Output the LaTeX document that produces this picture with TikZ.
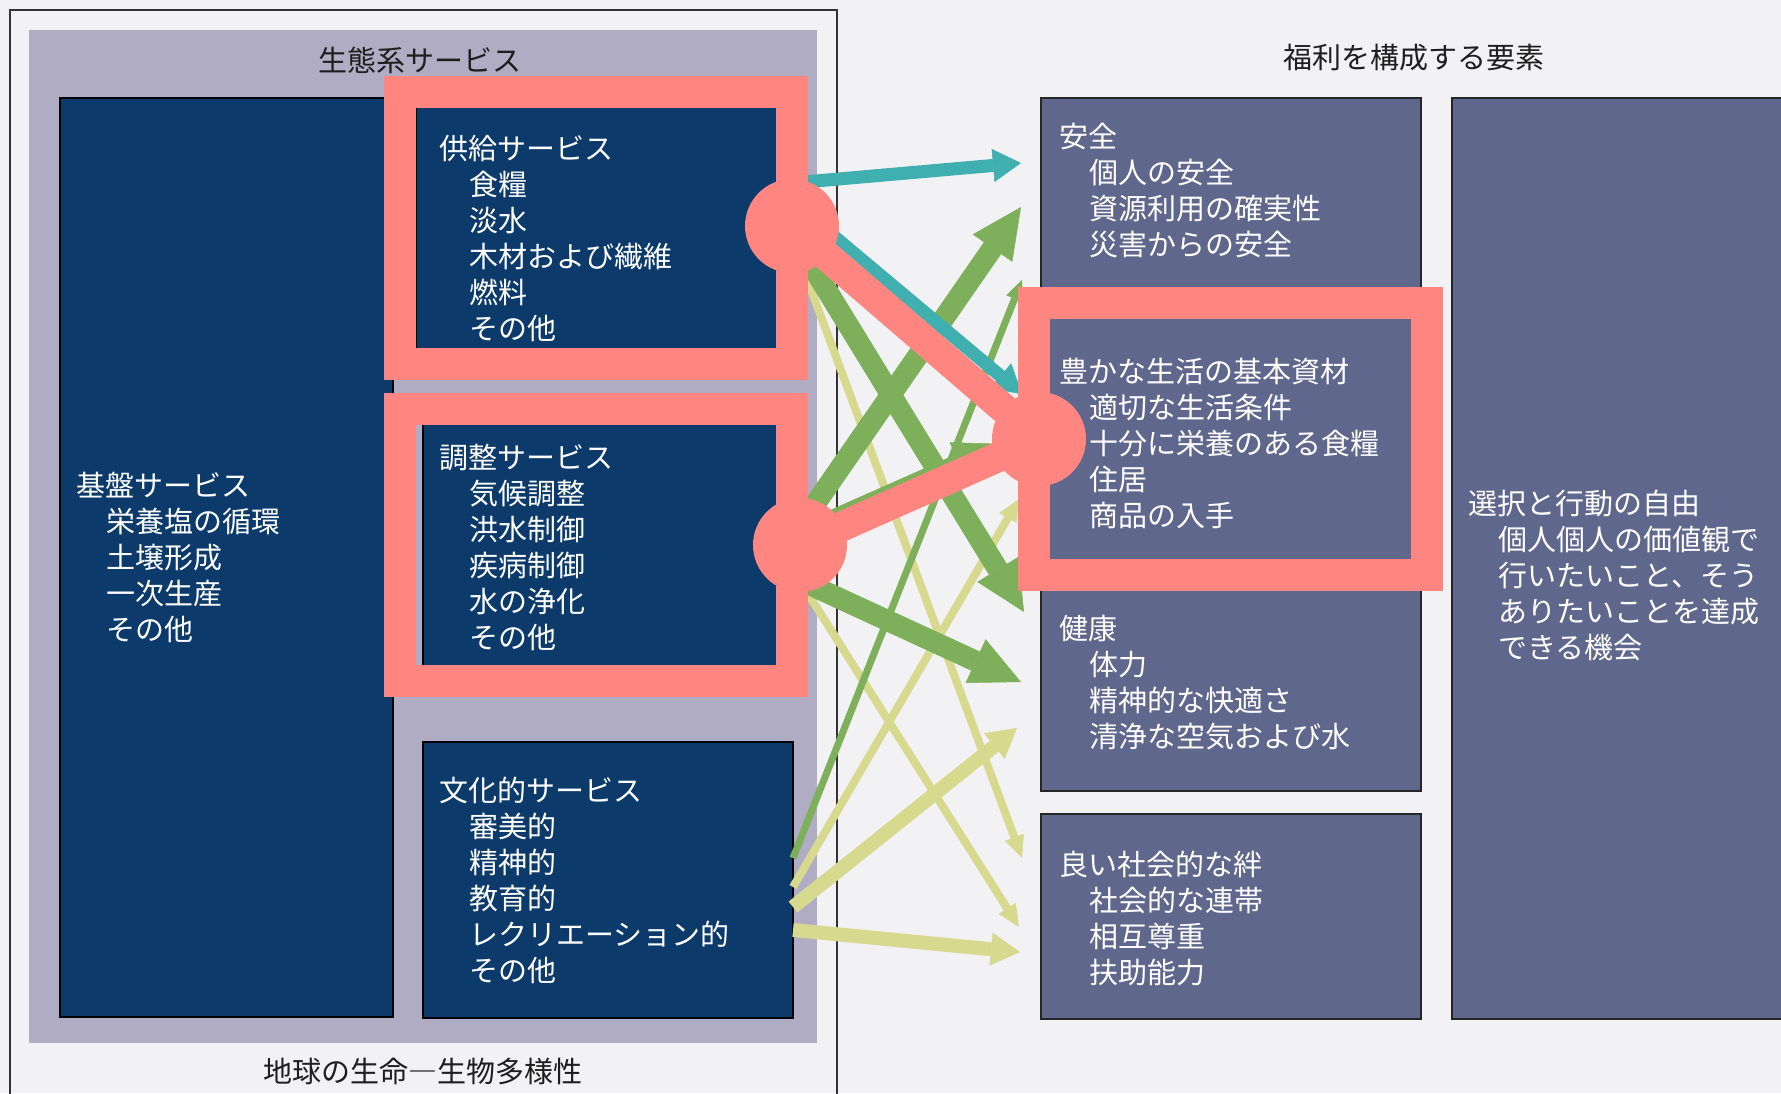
\documentclass[tikz,border=0pt]{standalone}
\usepackage{fontspec}
\setmainfont{Noto Sans CJK JP}
\usetikzlibrary{arrows.meta,calc}
\definecolor{bgc}{HTML}{F2F2F4}
\definecolor{lavc}{HTML}{AFACC3}
\definecolor{navyc}{HTML}{0B3A6B}
\definecolor{slatec}{HTML}{5F678D}
\definecolor{pinkc}{HTML}{FF8581}
\definecolor{tealc}{HTML}{3FAFB0}
\definecolor{greenc}{HTML}{7EB05C}
\definecolor{yelc}{HTML}{D7DA8E}
\definecolor{framec}{HTML}{333333}
\definecolor{titlec}{HTML}{1E1E1E}
\newcommand\mylines[5]{%
  \node[txt] (#1-h) at (#2,#3+11) {#4};
  \foreach \t [count=\i] in {#5} {\node[txt] (#1-\i) at (#2+30,#3+11+36*\i) {\t};}
}
\begin{document}
\begin{tikzpicture}[x=1pt,y=-1pt,
  navybox/.style={anchor=north west,inner sep=0pt,outer sep=0pt,draw=black,line width=1.5pt,fill=navyc},
  slatebox/.style={anchor=north west,inner sep=0pt,outer sep=0pt,draw=black!85,line width=2pt,fill=slatec},
  txt/.style={anchor=base west,inner sep=0pt,text=white,font=\fontsize{29}{36}\selectfont},
  ttl/.style={anchor=base,inner sep=0pt,text=titlec,font=\fontsize{29}{36}\selectfont},
  pinkdot/.style={circle,fill=pinkc,inner sep=0pt,minimum size=94pt},
  pinkline/.style={draw=pinkc,line width=30pt},
  pinkframe/.style={draw=pinkc,line width=32pt},
  tealarr/.style={draw=tealc,line width=13pt,-{Triangle[length=28pt,width=33pt,line width=0.5pt]}},
  gthick/.style={draw=greenc,line width=21pt,-{Triangle[length=50pt,width=48pt,line width=0.5pt]}},
  gthin/.style={draw=greenc,line width=7pt,-{Triangle[length=20pt,width=18pt,line width=0.5pt]}},
  ythin/.style={draw=yelc,line width=8pt,-{Triangle[length=22pt,width=20pt,line width=0.5pt]}},
  ymed/.style={draw=yelc,line width=14pt,-{Triangle[length=29pt,width=33pt,line width=0.5pt]}}
]
\clip (0,0) rectangle (1781,1093);
\fill[bgc] (0,0) rectangle (1781,1093);
\draw[framec,line width=2pt] (10,1100) -- (10,10) -- (837,10) -- (837,1100);
\fill[lavc] (29,30) rectangle (817,1043);

% titles
\node[ttl] (ttl-eco) at (420,71) {生態系サービス};
\node[ttl] (ttl-wb) at (1414,68) {福利を構成する要素};
\node[ttl] (ttl-bio) at (423,1082) {地球の生命―生物多様性};

% left boxes
\node[navybox,minimum width=333pt,minimum height=919pt] (basic) at (60,98) {};
\node[navybox,minimum width=377pt,minimum height=255pt] (sup) at (416,100) {};
\node[navybox,minimum width=370pt,minimum height=252pt] (reg) at (423,418) {};
\node[navybox,minimum width=370pt,minimum height=276pt] (cul) at (423,742) {};
% right boxes
\node[slatebox,minimum width=380pt,minimum height=210pt] (safe) at (1041,98) {};
\node[slatebox,minimum width=380pt,minimum height=262pt] (mat) at (1041,308) {};
\node[slatebox,minimum width=380pt,minimum height=221pt] (health) at (1041,570) {};
\node[slatebox,minimum width=380pt,minimum height=205pt] (social) at (1041,814) {};
\node[slatebox,minimum width=380pt,minimum height=921pt] (free) at (1452,98) {};

% texts
\mylines{basic}{76}{485}{基盤サービス}{栄養塩の循環,土壌形成,一次生産,その他}
\mylines{sup}{439}{148}{供給サービス}{食糧,淡水,木材および繊維,燃料,その他}
\mylines{reg}{439}{457}{調整サービス}{気候調整,洪水制御,疾病制御,水の浄化,その他}
\mylines{cul}{439}{790}{文化的サービス}{審美的,精神的,教育的,レクリエーション的,その他}
\mylines{safe}{1059}{136}{安全}{個人の安全,資源利用の確実性,災害からの安全}
\mylines{mat}{1059}{371}{豊かな生活の基本資材}{適切な生活条件,十分に栄養のある食糧,住居,商品の入手}
\mylines{health}{1059}{628}{健康}{体力,精神的な快適さ,清浄な空気および水}
\mylines{social}{1059}{864}{良い社会的な絆}{社会的な連帯,相互尊重,扶助能力}
\mylines{free}{1468}{503}{選択と行動の自由}{個人個人の価値観で,行いたいこと、そう,ありたいことを達成,できる機会}

% arrows
\draw[ythin] (sup.east |- 0,241) -- ($(social.west |- 0,858)+(-19,0)$);
\draw[ythin] (reg.east |- 0,570) -- ($(social.west |- 0,927)+(-22,0)$);
\draw[ythin] (cul.east |- 0,887) -- ($(mat.west |- 0,499)+(-22,0)$);
\draw[ymed] (cul.east |- 0,907) -- ($(health.west |- 0,728)+(-24,0)$);
\draw[ymed] (cul.east |- 0,930) -- ($(social.west |- 0,952)+(-21,0)$);
\draw[gthin] (cul.east |- 0,858) -- ($(safe.west |- 0,280)+(-19,0)$);
\draw[gthick] (reg.east |- 0,577) -- ($(health.west |- 0,682)+(-20,0)$);
\draw[gthick] (reg.east |- 0,538) -- ($(mat.west |- 0,444)+(-36,0)$);
\draw[gthick] (sup.east |- 0,235) -- ($(health.west |- 0,612)+(-17,0)$);
\draw[gthick] (reg.east |- 0,536) -- ($(safe.west |- 0,207)+(-20,0)$);
\draw[tealarr] (sup.east |- 0,202) -- ($(mat.west |- 0,394)+(-19,0)$);
\draw[tealarr] (sup.east |- 0,183) -- ($(safe.west |- 0,163)+(-20,0)$);

% pink highlights
\draw[pinkframe] (400,92) rectangle (792,363.5);
\draw[pinkframe] (400,409) rectangle (792,681);
\draw[pinkframe] (1034,303) rectangle (1427,575);
\node[pinkdot] (c1) at (792,226) {};
\node[pinkdot] (c2) at (800,545) {};
\node[pinkdot] (c3) at (1039,439) {};
\draw[pinkline] (c1.center) -- (c3.center);
\draw[pinkline] (c2.center) -- (c3.center);
\end{tikzpicture}
\end{document}
